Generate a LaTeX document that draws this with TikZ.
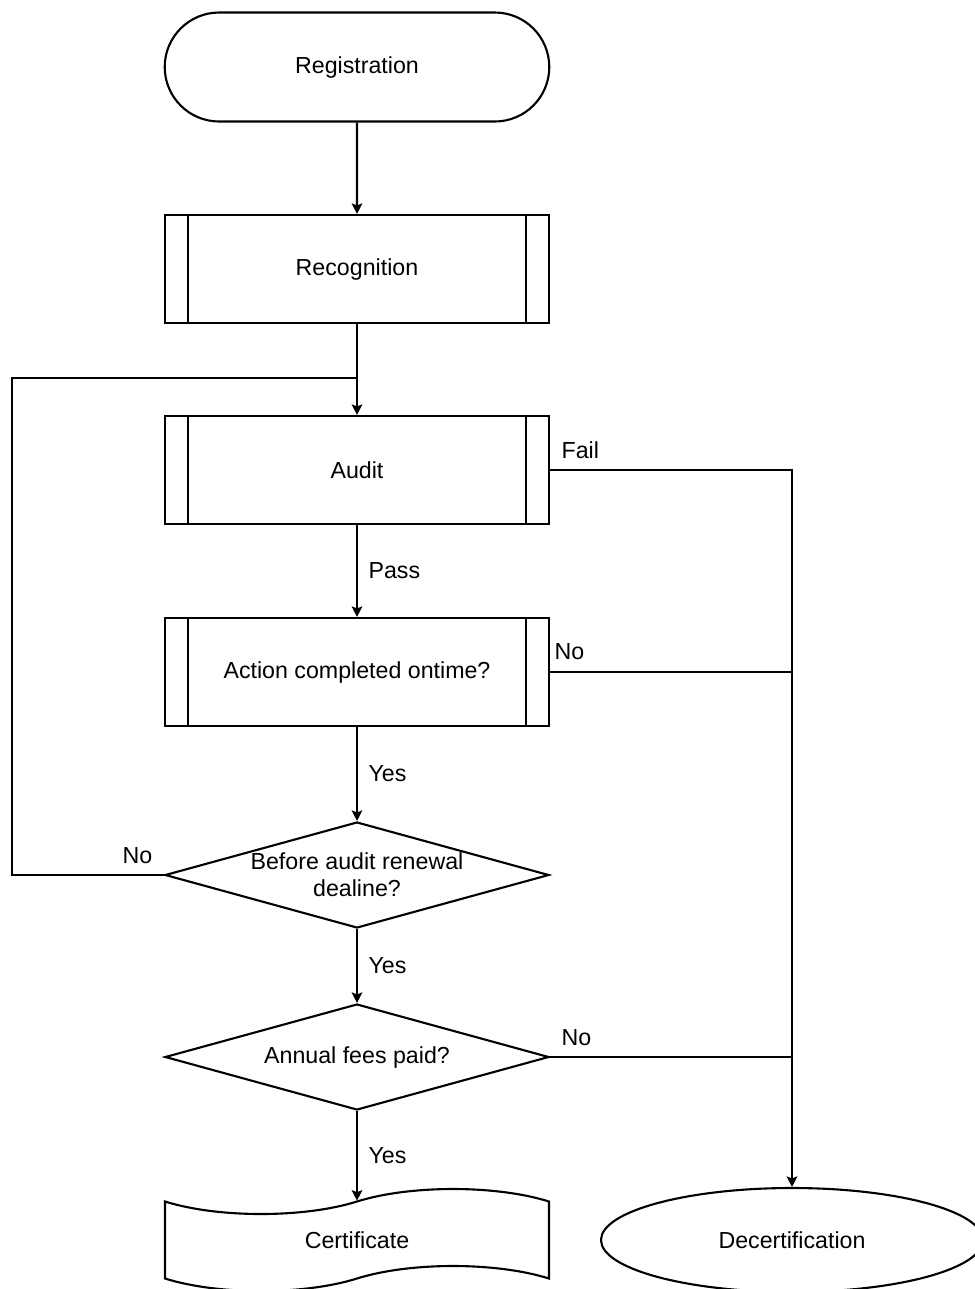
\documentclass[tikz,border=0pt]{standalone}
\usepackage{fontspec}
\setmainfont{Liberation Sans}
\usetikzlibrary{arrows.meta,shapes,calc}

\begin{document}
\begin{tikzpicture}[y=-1cm,line width=0.6pt,>={Stealth[length=3pt,width=3pt,inset=0.6pt]},
  every node/.style={font=\fontsize{6.6}{7.7}\selectfont},
  term/.style={rounded rectangle, draw, minimum width=4.08cm, minimum height=1.09cm},
  subproc/.style={rectangle, draw, minimum width=3.84cm, minimum height=1.08cm,
    path picture={\draw ([xshift=0.23cm]path picture bounding box.north west) -- ([xshift=0.23cm]path picture bounding box.south west);
                  \draw ([xshift=-0.23cm]path picture bounding box.north east) -- ([xshift=-0.23cm]path picture bounding box.south east);}},
  decision/.style={diamond, draw, aspect=3.6, minimum width=3.84cm, minimum height=1.06cm, inner sep=0pt, align=center},
  doc/.style={tape, draw, minimum width=3.84cm, minimum height=1.02cm, tape bend height=0.25cm},
  stopbox/.style={ellipse, draw, minimum width=3.82cm, minimum height=1.04cm},
  lbl/.style={inner sep=3pt}]
\useasboundingbox (0,0) rectangle (9.75,12.89);
\draw (3.57,0.67) node[term] (reg) {Registration};
\draw (3.57,2.69) node[subproc] (recog) {Recognition};
\draw (3.57,4.70) node[subproc] (audit) {Audit};
\draw (3.57,6.72) node[subproc] (action) {Action completed ontime?};
\draw (3.57,8.75) node[decision] (renew) {Before audit renewal\\dealine?};
\draw (3.57,10.57) node[decision] (fees) {Annual fees paid?};
\draw (3.57,12.40) node[doc] (cert) {Certificate};
\draw (7.92,12.40) node[stopbox] (decert) {Decertification};
\coordinate (join) at (3.57,3.78);
\coordinate (loopcorner) at (0.12,3.78);
% main line
\draw[->] (reg) -- (recog);
\draw[->] (recog) -- (audit);
\draw[->] (audit) -- node[lbl,right] {Pass} (action);
\draw[->] (action) -- node[lbl,right] {Yes} (renew);
\draw[->] (renew) -- node[lbl,right] {Yes} (fees);
\draw[->] (fees) -- node[lbl,right] {Yes} (cert.north);
% back to audit
\draw (renew.west) node[lbl,above left] {No} -| (loopcorner) -- (join);
% to decertification
\draw[->] (audit.east) node[lbl,above right] {Fail} -| (decert.north);
\draw (action.east) node[lbl,above right,inner sep=1pt,yshift=0.08cm] {No} -- (action.east -| decert);
\draw (fees.east) node[lbl,above right] {No} -- (fees.east -| decert);
\end{tikzpicture}
\end{document}
